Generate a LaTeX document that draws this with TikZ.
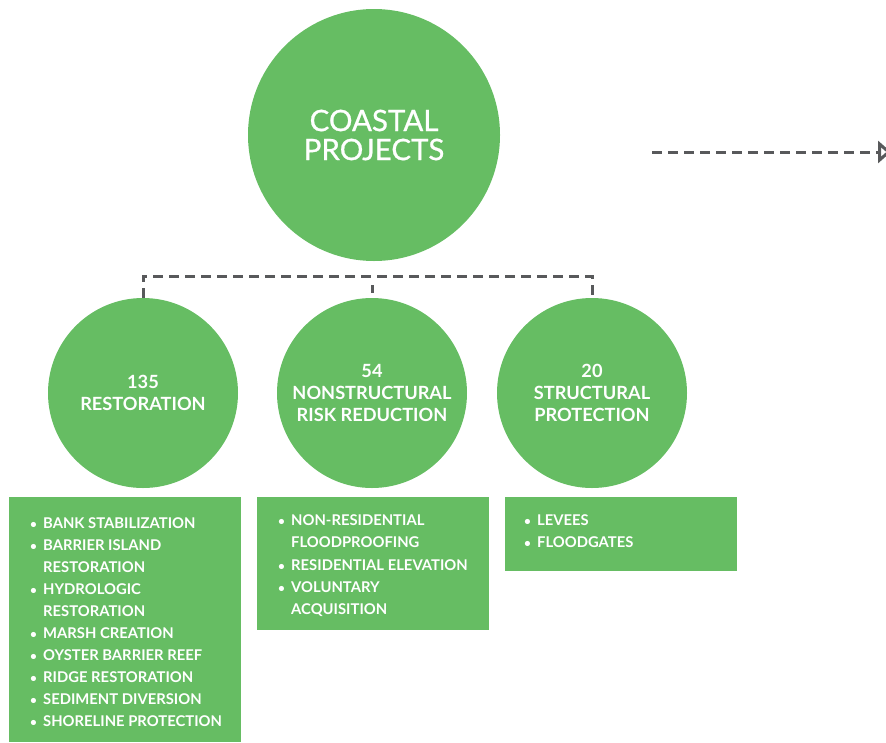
\documentclass[tikz,border=0pt]{standalone}
\usepackage{fontspec}
\setmainfont{Lato}
\newfontfamily\titlefont{Lato}[FakeBold=0.8]
\usetikzlibrary{arrows.meta}
\definecolor{cgreen}{RGB}{102,189,99}
\definecolor{cgray}{RGB}{88,89,91}
\tikzset{
  bigcircle/.style={circle, fill=cgreen, draw=none, minimum size=252pt, inner sep=0pt, text=white, align=center, font=\titlefont\fontsize{29.5}{29}\selectfont},
  catcircle/.style={circle, fill=cgreen, draw=none, minimum size=190pt, inner sep=0pt, text=white, align=center, font=\bfseries\fontsize{18.2}{22}\selectfont},
  listbox/.style={rectangle, fill=cgreen, draw=none, anchor=north west, inner sep=0pt, minimum width=232pt},
  listtext/.style={anchor=base west, inner sep=0pt, text=white, font=\bfseries\fontsize{14.8}{22}\selectfont},
  dashline/.style={cgray, line width=3pt, dash pattern=on 10pt off 6pt},
}
\newcommand{\itm}[1]{\makebox[13pt][l]{\raisebox{0.5pt}{\scalebox{0.8}{\textbullet}}}#1}
\newcommand{\cnt}[1]{\makebox[13pt][l]{}#1}
\begin{document}
\begin{tikzpicture}[x=1pt,y=-1pt]
\useasboundingbox (0,0) rectangle (886,742);
\node[bigcircle] (main) at (374,135) {COASTAL\\PROJECTS};
\node[catcircle] (r1) at (143,393) {135\\RESTORATION};
\node[catcircle] (r2) at (372,393) {54\\NONSTRUCTURAL\\RISK REDUCTION};
\node[catcircle] (r3) at (592,393) {20\\STRUCTURAL\\PROTECTION};
\coordinate (br) at (592,276);
\draw[dashline] (r1.north) |- (br) -- (r3.north);
\draw[cgray, line width=3pt, dash pattern=on 8pt off 14pt, dash phase=13pt] (r2.north |- br) -- (r2.north);
\coordinate (as) at (652,152);
\coordinate (ae) at (891,152);
\draw[dashline, -{Triangle[open, length=13pt, width=22pt, line width=3pt]}] (as) -- (ae);
\node[listbox, minimum height=245pt] (b1) at (9,497) {};
\node[listbox, minimum height=133pt] (b2) at (257,497) {};
\node[listbox, minimum height=74pt] (b3) at (505,497) {};
\node[listtext] (l1) at (30,528.5) {\begin{tabular}[t]{@{}l@{}}
\itm{BANK STABILIZATION}\\
\itm{BARRIER ISLAND}\\
\cnt{RESTORATION}\\
\itm{HYDROLOGIC}\\
\cnt{RESTORATION}\\
\itm{MARSH CREATION}\\
\itm{OYSTER BARRIER REEF}\\
\itm{RIDGE RESTORATION}\\
\itm{SEDIMENT DIVERSION}\\
\itm{SHORELINE PROTECTION}
\end{tabular}};
\node[listtext] (l2) at (278,525.5) {\begin{tabular}[t]{@{}l@{}}
\itm{NON-RESIDENTIAL}\\
\cnt{FLOODPROOFING}\\[1pt]
\itm{RESIDENTIAL ELEVATION}\\
\itm{VOLUNTARY}\\
\cnt{ACQUISITION}
\end{tabular}};
\node[listtext] (l3) at (524,525.5) {\begin{tabular}[t]{@{}l@{}}
\itm{LEVEES}\\
\itm{FLOODGATES}
\end{tabular}};
\end{tikzpicture}
\end{document}
